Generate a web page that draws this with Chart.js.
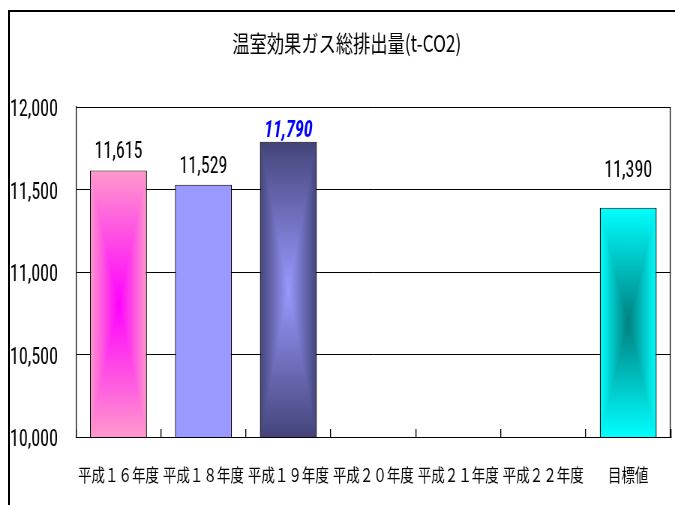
<!DOCTYPE html>
<html><head><meta charset="utf-8">
<script src="https://cdn.jsdelivr.net/npm/chart.js@4/dist/chart.umd.min.js"></script>
<style>
html,body{margin:0;padding:0;background:#fff;overflow:hidden;width:675px;height:505px}
#wrap{position:absolute;left:0;top:0;width:900px;height:505px;transform:scaleX(0.75);transform-origin:0 0}
#frame{position:absolute;left:8px;top:10px;width:700px;height:600px;border-top:2px solid #000;border-left:2px solid #000;pointer-events:none}
</style></head><body>
<div id="wrap"><canvas id="c"></canvas></div>
<div id="frame"></div>
<script>
// ---- data ----
const categories = ['平成１６年度','平成１８年度','平成１９年度','平成２０年度','平成２１年度','平成２２年度','目標値'];
const emissions = [11615, 11529, 11790, null, null, null, 11390];
const yTicks = [10000, 10500, 11000, 11500, 12000];
const titleText = '温室効果ガス総排出量(t-CO2)';

// ---- styles ----
const edgeColors   = ['#ff99cc','#9999ff','#44447a',null,null,null,'#00ffff'];
const centerColors = ['#ff00ff','#9999ff','#9999ff',null,null,null,'#008080'];
const labelOffsets = [13, 12, 5, 0, 0, 0, 31];
const highlightIndex = 2;
const BAR_PCT = 0.67;
const NUM_FONT = '"Roboto Condensed", "Liberation Sans", Arial, sans-serif';
const CJK_FONT = '"Noto Sans CJK JP", "Noto Sans", sans-serif';
const VLINE = 1.33;

function hex(c){return [parseInt(c.slice(1,3),16),parseInt(c.slice(3,5),16),parseInt(c.slice(5,7),16)];}
const patterns = [];

const gradientPlugin = {
  id:'rectGradient',
  afterLayout(chart){
    // shift the title block so that it is centred like the reference
    if (chart.titleBlock) chart.titleBlock.left = 30;
    const xs = chart.scales.x, ys = chart.scales.y;
    const bw = xs.width / categories.length * BAR_PCT;
    emissions.forEach((v,i)=>{
      if (v == null) { patterns[i] = null; return; }
      const cx = xs.getPixelForValue(i);
      const top = ys.getPixelForValue(v);
      const bot = ys.getPixelForValue(ys.min);
      const left = cx - bw/2;
      const w = Math.max(1, Math.round(bw)), h = Math.max(1, Math.round(bot - top));
      const off = document.createElement('canvas'); off.width = w; off.height = h;
      const octx = off.getContext('2d');
      const img = octx.createImageData(w, h);
      const e = hex(edgeColors[i]), c = hex(centerColors[i]);
      for (let y = 0; y < h; y++) {
        const dy = Math.abs((y + 0.5) / h * 2 - 1);
        for (let x = 0; x < w; x++) {
          const dx = Math.abs((x + 0.5) / w * 2 - 1);
          const t = Math.max(dx, dy);
          const k = (y * w + x) * 4;
          img.data[k]   = c[0] + (e[0] - c[0]) * t;
          img.data[k+1] = c[1] + (e[1] - c[1]) * t;
          img.data[k+2] = c[2] + (e[2] - c[2]) * t;
          img.data[k+3] = 255;
        }
      }
      octx.putImageData(img, 0, 0);
      const pat = chart.ctx.createPattern(off, 'no-repeat');
      pat.setTransform(new DOMMatrix().translate(left, top).scale(bw / w, (bot - top) / h));
      patterns[i] = pat;
    });
  }
};

const labelPlugin = {
  id:'valueLabels',
  afterDatasetsDraw(chart){
    const ctx = chart.ctx;
    const meta = chart.getDatasetMeta(0);
    meta.data.forEach((el, i)=>{
      const v = emissions[i];
      if (v == null) return;
      const hl = i === highlightIndex;
      ctx.save();
      ctx.font = (hl ? 'italic bold ' : '') + '24px ' + NUM_FONT;
      ctx.fillStyle = hl ? '#0000ff' : '#000000';
      ctx.textAlign = 'center';
      ctx.textBaseline = 'alphabetic';
      ctx.fillText(v.toLocaleString('en-US'), el.x, el.y - labelOffsets[i]);
      ctx.restore();
    });
  },
  afterDraw(chart){
    const a = chart.chartArea, ctx = chart.ctx;
    ctx.save();
    ctx.strokeStyle = '#000';
    ctx.lineWidth = VLINE;
    ctx.beginPath();
    ctx.moveTo(a.right - VLINE/2, a.top);
    ctx.lineTo(a.right - VLINE/2, a.bottom);
    ctx.stroke();
    ctx.restore();
  }
};

new Chart(document.getElementById('c'), {
  type: 'bar',
  data: {
    labels: categories,
    datasets: [{
      data: emissions,
      backgroundColor: (c) => patterns[c.dataIndex] || '#ffffff',
      borderColor: '#000000',
      borderWidth: {top: 1, bottom: 1, left: VLINE, right: VLINE},
      borderSkipped: false,
      barPercentage: BAR_PCT,
      categoryPercentage: 1.0
    }]
  },
  options: {
    responsive: true,
    maintainAspectRatio: false,
    animation: false,
    devicePixelRatio: 1,
    layout: { padding: { left: 0, right: 5.3, top: 0, bottom: 0 } },
    plugins: {
      legend: { display: false },
      tooltip: { enabled: false },
      title: {
        display: true,
        text: titleText,
        color: '#000',
        font: { family: CJK_FONT, size: 23, weight: 'normal', lineHeight: 1.2 },
        padding: { top: 29, bottom: 50.4 }
      }
    },
    scales: {
      x: {
        grid: { display: true, drawOnChartArea: false, drawTicks: true, tickLength: -8, offset: true, color: '#000', lineWidth: VLINE },
        border: { display: true, color: '#000', width: 1 },
        ticks: { color: '#000', font: { family: CJK_FONT, size: 18 }, padding: 35, maxRotation: 0, autoSkip: false },
        afterFit(s){ s.height = 68; }
      },
      y: {
        min: yTicks[0],
        max: yTicks[yTicks.length - 1],
        afterBuildTicks(s){ s.ticks = yTicks.map(v => ({ value: v })); },
        grid: { color: '#000', lineWidth: 1, drawTicks: false },
        border: { display: true, color: '#000', width: VLINE },
        ticks: { color: '#000', font: { family: NUM_FONT, size: 24 }, padding: 24, labelOffset: 3,
                 callback: (v) => Number(v).toLocaleString('en-US') },
        afterFit(s){ s.width = 101.3; }
      }
    }
  },
  plugins: [gradientPlugin, labelPlugin]
});
</script>
</body></html>
